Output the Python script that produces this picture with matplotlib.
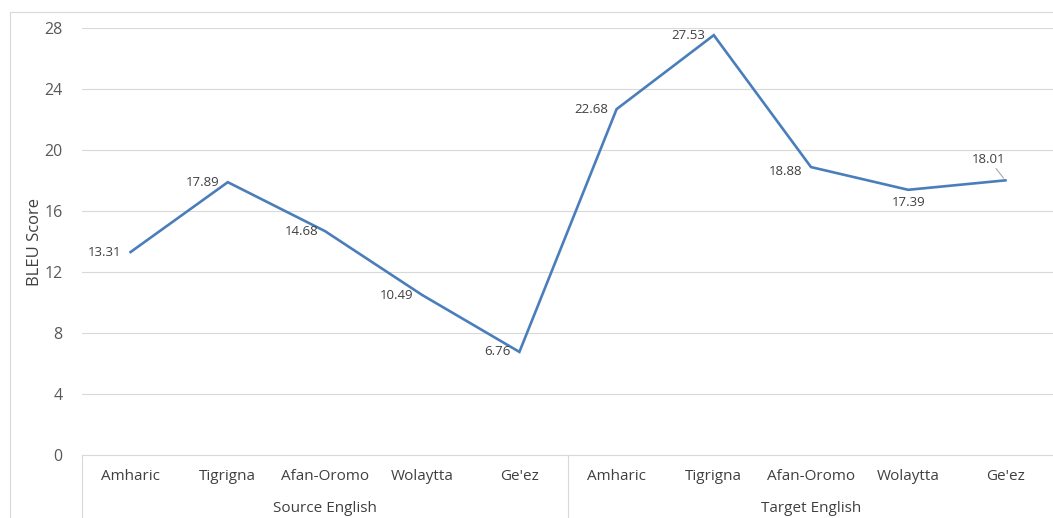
import matplotlib
matplotlib.use('Agg')
import matplotlib.pyplot as plt
from matplotlib.patches import Rectangle

# --- data
languages = ["Amharic", "Tigrigna", "Afan-Oromo", "Wolaytta", "Ge'ez"]
groups = ["Source English", "Target English"]
bleu_source = [13.31, 17.89, 14.68, 10.49, 6.76]
bleu_target = [22.68, 27.53, 18.88, 17.39, 18.01]

LINE = '#4A7EBB'
GRID = '#D9D9D9'
TEXT = '#404040'

plt.rcParams['font.family'] = ['Open Sans', 'DejaVu Sans']

fig = plt.figure(figsize=(10.53, 5.18), dpi=100)
fig.patch.set_facecolor('white')

# outer chart border (Excel style)
fig.add_artist(Rectangle((10 / 1053, -0.05), 1.2, 1 - 12 / 518 + 0.05,
                         transform=fig.transFigure, fill=False,
                         edgecolor=GRID, linewidth=0.8))

ax = fig.add_axes([82 / 1053, 1 - 455 / 518, (1054 - 82) / 1053, (455 - 28) / 518])

values = bleu_source + bleu_target
xs = list(range(len(values)))
ax.plot(xs, values, color=LINE, linewidth=1.9, solid_joinstyle='miter')

ax.set_xlim(-0.5, len(values) - 0.5)
ax.set_ylim(0, 28)
ax.set_yticks(range(0, 29, 4))
ax.tick_params(axis='y', length=0, pad=14, labelsize=11.5, labelcolor='#595959')
ax.set_xticks([])
ax.grid(axis='y', color=GRID, linewidth=0.8)
ax.set_axisbelow(True)
for s in ['top', 'right', 'left']:
    ax.spines[s].set_visible(False)
ax.spines['bottom'].set_color(GRID)
ax.spines['bottom'].set_linewidth(0.8)
ax.set_ylabel('BLEU Score', fontsize=12, color=TEXT, labelpad=1)

# data labels: (dx, dy, ha, va) offsets in points
offsets = [(-7, 0, 'right', 'center'), (-6, 0, 'right', 'center'),
           (-5, 0, 'right', 'center'), (-6, 0, 'right', 'center'),
           (-6, 0, 'right', 'center'), (-6, 0, 'right', 'center'),
           (-6, 0, 'right', 'center'), (-6, -3, 'right', 'center'),
           (0, -9, 'center', 'center'), (-12, 15, 'center', 'center')]
for x, v, (dx, dy, ha, va) in zip(xs, values, offsets):
    ax.annotate(f"{v:.2f}", xy=(x, v), xytext=(dx, dy), textcoords='offset points',
                ha=ha, va=va, fontsize=9.5, color=TEXT)
# leader line for the last label
ax.annotate('', xy=(xs[-1], values[-1]), xytext=(-8, 10), textcoords='offset points',
            arrowprops=dict(arrowstyle='-', color='#A6A6A6', lw=0.8))

# multi-level category axis
trans = ax.get_xaxis_transform()
n = len(languages)
for g, name in enumerate(groups):
    for i, lang in enumerate(languages):
        ax.text(g * n + i, -21 / 427, lang, transform=trans, ha='center', va='center',
                fontsize=11, color=TEXT, clip_on=False)
    ax.text(g * n + (n - 1) / 2, -53 / 427, name, transform=trans, ha='center',
            va='center', fontsize=11, color=TEXT, clip_on=False)
for b in [-0.5, n - 0.5, 2 * n - 0.5]:
    ax.plot([b, b], [0, -0.2], transform=trans, color=GRID, linewidth=0.8, clip_on=False)

fig.savefig('out.png', dpi=100)
